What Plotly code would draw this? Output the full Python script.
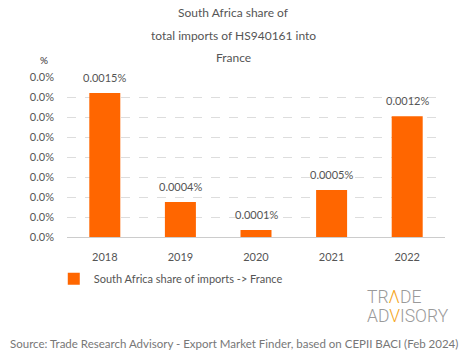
import plotly.graph_objects as go

years = ["2018", "2019", "2020", "2021", "2022"]
share_pct = [0.00149, 0.000362, 0.0000724, 0.000486, 0.001249]
series_name = "South Africa share of imports -> France"
title_lines = ["South Africa share of", "total imports of HS940161 into", "France"]
source_text = "Source: Trade Research Advisory - Export Market Finder, based on CEPII BACI (Feb 2024)"

FONT = "Lato"
GRAY = "#555555"
ORANGE = "#FF6600"

ymax = 0.001656
fig = go.Figure()
fig.add_trace(go.Bar(
    x=years, y=share_pct, name=series_name,
    marker=dict(color=ORANGE, line=dict(width=0)),
))
for i, v in enumerate(share_pct):
    fig.add_annotation(x=i, y=v, xref="x", yref="y", text=f"{v:.4f}%", showarrow=False,
                       yanchor="middle", yshift=16,
                       font=dict(family=FONT, size=11, color=GRAY))

fig.update_layout(
    width=465, height=359,
    margin=dict(l=67, r=20, t=77, b=122, autoexpand=False),
    paper_bgcolor="white", plot_bgcolor="white",
    bargap=0.59,
    showlegend=True,
    legend=dict(x=-0.035, y=-0.17, xanchor="left", yanchor="top",
                font=dict(family=FONT, size=11, color=GRAY),
                itemwidth=30),
    font=dict(family=FONT, color=GRAY),
)
fig.update_xaxes(type="category", range=[-0.5, len(years) - 0.5], autorange=False,
                 showline=True, linecolor="#cccccc", linewidth=1,
                 tickfont=dict(family=FONT, size=11, color=GRAY),
                 ticks="", showgrid=False, ticklabelstandoff=10)
fig.update_yaxes(range=[0, ymax], autorange=False, dtick=ymax / 8, tick0=0,
                 tickformat=".1f", ticksuffix="%",
                 showgrid=True, gridcolor="#dddddd", griddash="dash", gridwidth=1,
                 zeroline=False, ticklabelstandoff=12,
                 tickfont=dict(family=FONT, size=11, color=GRAY))

for line, yp in zip(title_lines, [1.406, 1.2625, 1.125]):
    fig.add_annotation(text=line, xref="paper", yref="paper", x=0.4405, xanchor="center",
                       y=yp, yanchor="middle", showarrow=False,
                       font=dict(family=FONT, size=12, color=GRAY))

fig.add_annotation(text="%", xref="paper", yref="paper", x=-0.061, y=1.106,
                   xanchor="center", yanchor="middle",
                   showarrow=False, font=dict(family=FONT, size=10, color="#333333"))
fig.add_annotation(text=source_text, xref="paper", yref="paper",
                   x=0.4405, xanchor="center", y=-0.6625, yanchor="middle",
                   showarrow=False, font=dict(family=FONT, size=11.5, color="#777777"))
logo_font = dict(family="Roboto", size=17.5, color="#9a9a9a", weight=300)
fig.add_annotation(text="TR<span style='color:#F5A623'>Λ</span>DE", xref="paper", yref="paper",
                   x=0.788, xanchor="left", y=-0.375, yanchor="middle",
                   showarrow=False, font=logo_font)
fig.add_annotation(text="AD<span style='color:#F5A623'>V</span>ISORY", xref="paper", yref="paper",
                   x=0.788, xanchor="left", y=-0.494, yanchor="middle",
                   showarrow=False, font=logo_font)

fig.write_html("out.html", config={"displayModeBar": False},
               post_script="document.body.style.margin='0';")
